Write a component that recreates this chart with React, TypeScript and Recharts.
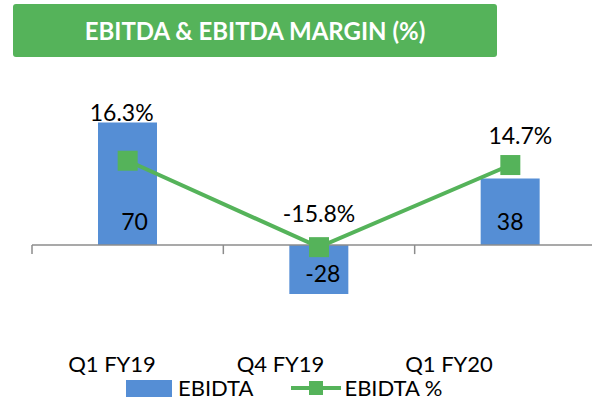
import React from 'react';
import { ComposedChart, Bar, Line, XAxis, YAxis, ReferenceLine, LabelList, Legend } from 'recharts';

const categories = ['Q1 FY19', 'Q4 FY19', 'Q1 FY20'];
const ebitda = [70, -28, 38];
const ebitdaMargin = [16.3, -15.8, 14.7];
const boundaries = [-0.5, 0.5, 1.5, 2.5];

const data = categories.map((name, i) => ({ x: i, name, ebitda: ebitda[i], margin: ebitdaMargin[i] }));

const BLUE = '#558ED5';
const GREEN = '#55B35A';
const AXIS = '#8C8C8C';
const FONT = 'Lato, "Open Sans", sans-serif';

const BAR_LABEL_DX = [7, 4, 0];
const LINE_LABEL_DX = [-6, 0, 10];
const LINE_LABEL_DY = [-49, -34, -30];

const BarValueLabel = (props: any) => {
  const x = Number(props.x), y = Number(props.y), w = Number(props.width), h = Number(props.height);
  const value = Number(props.value);
  const idx = props.index ?? 0;
  const top = Math.min(y, y + h);
  const bottom = Math.max(y, y + h);
  const cx = x + w / 2 + (BAR_LABEL_DX[idx] ?? 0);
  const cy = value >= 0 ? bottom - 24 : top + 28;
  return (
    <text x={cx} y={cy} textAnchor="middle" dominantBaseline="central" fontFamily={FONT} fontSize={23} fill="#000">
      {value}
    </text>
  );
};

const LineValueLabel = (props: any) => {
  const x = Number(props.x), y = Number(props.y);
  const value = Number(props.value);
  const idx = props.index ?? 0;
  return (
    <text
      x={x + (LINE_LABEL_DX[idx] ?? 0)}
      y={y + (LINE_LABEL_DY[idx] ?? -30)}
      textAnchor="middle"
      dominantBaseline="central"
      fontFamily={FONT}
      fontSize={23}
      fill="#000"
    >
      {value.toFixed(1)}%
    </text>
  );
};

const SquareDot = (props: any) => {
  const { cx, cy } = props;
  if (cx == null || cy == null) return null;
  return <rect x={cx - 10} y={cy - 10} width={20} height={20} fill={GREEN} />;
};

const LegendContent = () => (
  <div style={{ display: 'flex', alignItems: 'center', paddingLeft: 126, fontFamily: FONT, fontSize: 22, color: '#000', lineHeight: '26px' }}>
    <svg width={46} height={17} style={{ display: 'block' }}>
      <rect x={0} y={0} width={46} height={17} fill={BLUE} />
    </svg>
    <span style={{ marginLeft: 6 }}>EBIDTA</span>
    <svg width={50} height={16} style={{ display: 'block', marginLeft: 38 }}>
      <line x1={0} y1={8} x2={50} y2={8} stroke={GREEN} strokeWidth={4} strokeLinecap="round" />
      <rect x={18} y={1} width={14} height={14} fill={GREEN} />
    </svg>
    <span style={{ marginLeft: 3 }}>EBIDTA %</span>
  </div>
);

export default function App() {
  return (
    <div style={{ position: 'absolute', left: 0, top: 0, width: 592, height: 402, overflow: 'hidden', background: '#fff' }}>
      <div
        style={{
          position: 'absolute',
          left: 13,
          top: 4,
          width: 484,
          height: 53,
          background: GREEN,
          borderRadius: 3,
          display: 'flex',
          alignItems: 'center',
          justifyContent: 'center',
          color: '#fff',
          fontFamily: FONT,
          fontWeight: 700,
          fontSize: 24,
        }}
      >
        EBITDA &amp; EBITDA MARGIN (%)
      </div>
      <div style={{ position: 'absolute', left: 0, top: 0 }}>
        <ComposedChart width={620} height={402} data={data} margin={{ top: 105, right: 14, bottom: 57, left: 32 }}>
          <XAxis dataKey="x" type="number" domain={[-0.5, 2.5]} allowDataOverflow hide />
          <XAxis
            xAxisId="lab"
            dataKey="x"
            type="number"
            domain={[0, 2]}
            allowDataOverflow
            padding={{ left: 80, right: 157 }}
            ticks={[0, 1, 2]}
            tickFormatter={(v: number) => categories[v] ?? ''}
            axisLine={false}
            tickLine={false}
            tickMargin={5}
            tick={{ fontFamily: FONT, fontSize: 22, fill: '#000' }}
            interval={0}
          />
          <YAxis yAxisId="l" domain={[-40, 80]} allowDataOverflow hide />
          <YAxis yAxisId="r" orientation="right" domain={[-41, 37]} allowDataOverflow hide />
          <ReferenceLine yAxisId="l" y={0} stroke={AXIS} strokeWidth={1.5} />
          {boundaries.map((b) => (
            <ReferenceLine
              key={b}
              yAxisId="l"
              segment={[{ x: b, y: 0 }, { x: b, y: -5.2 }]}
              stroke={AXIS}
              strokeWidth={1.5}
            />
          ))}
          <Bar yAxisId="l" dataKey="ebitda" fill={BLUE} barSize={59} isAnimationActive={false}>
            <LabelList dataKey="ebitda" content={BarValueLabel} />
          </Bar>
          <Line
            yAxisId="r"
            dataKey="margin"
            stroke={GREEN}
            strokeWidth={4}
            dot={SquareDot}
            activeDot={false}
            isAnimationActive={false}
          >
            <LabelList dataKey="margin" content={LineValueLabel} />
          </Line>
          <Legend
            layout="horizontal"
            verticalAlign="middle"
            align="center"
            content={LegendContent}
            wrapperStyle={{ position: 'absolute', left: 0, top: 375, width: 592 }}
          />
        </ComposedChart>
      </div>
    </div>
  );
}
